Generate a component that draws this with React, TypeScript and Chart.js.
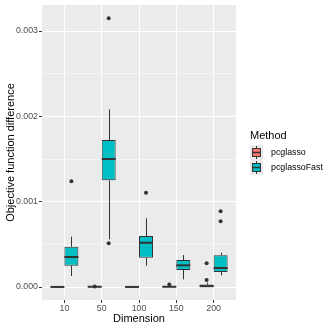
import React, { useEffect, useRef } from "react";
import { Chart, registerables } from "chart.js";
Chart.register(...registerables);

const DIMENSIONS = ["10", "50", "100", "150", "200"];
const METHODS = ["pcglasso", "pcglassoFast"];
const COLORS = ["#F8766D", "#00BFC4"];
const Y_TICKS = [0, 0.0005, 0.001, 0.0015, 0.002, 0.0025, 0.003];

// pcglasso
const PCG_LOWER = [0, 0, 0, 0, 0];
const PCG_Q1 = [0, 0.000001, 0, 0.000001, 0.000003];
const PCG_MEDIAN = [0.000001, 0.000003, 0.000001, 0.000003, 0.00001];
const PCG_Q3 = [0.000002, 0.000005, 0.000002, 0.000006, 0.00003];
const PCG_UPPER = [0.000004, 0.000008, 0.000004, 0.00001, 0.00005];
const PCG_OUTLIERS = [[], [0.000005], [], [0.00003], [0.000082, 0.000278]];

// pcglassoFast
const FAST_LOWER = [0.000129, 0.00056, 0.00025, 0.00009, 0.000137];
const FAST_Q1 = [0.00025, 0.00125, 0.000343, 0.0002, 0.000176];
const FAST_MEDIAN = [0.000352, 0.0015, 0.000519, 0.000254, 0.000223];
const FAST_Q3 = [0.000472, 0.001723, 0.000598, 0.000316, 0.000371];
const FAST_UPPER = [0.00059, 0.002082, 0.000805, 0.000375, 0.000402];
const FAST_OUTLIERS = [[0.001239], [0.003149, 0.000512], [0.001105], [], [0.00077, 0.000887]];

const STATS = [
  { lower: PCG_LOWER, q1: PCG_Q1, median: PCG_MEDIAN, q3: PCG_Q3, upper: PCG_UPPER, outliers: PCG_OUTLIERS },
  { lower: FAST_LOWER, q1: FAST_Q1, median: FAST_MEDIAN, q3: FAST_Q3, upper: FAST_UPPER, outliers: FAST_OUTLIERS },
];

const FONT = "'Liberation Sans', Arial, sans-serif";
const DODGE = 0.1875;
const DARK = "#333333";

const isMajor = (v: number) => Math.round(v * 2000) % 2 === 0;

const boxPlugin = {
  id: "boxExtras",
  beforeDraw(chart: any) {
    const { ctx, chartArea: a } = chart;
    ctx.save();
    ctx.fillStyle = "#EBEBEB";
    ctx.fillRect(a.left, a.top, a.right - a.left, a.bottom - a.top);
    ctx.restore();
  },
  beforeDatasetsDraw(chart: any) {
    const { ctx } = chart;
    const ys = chart.scales.y;
    ctx.save();
    ctx.strokeStyle = DARK;
    ctx.lineWidth = 1;
    STATS.forEach((s, d) => {
      const meta = chart.getDatasetMeta(d);
      meta.data.forEach((el: any, i: number) => {
        const x = Math.round(el.x) + 0.5;
        ctx.beginPath();
        ctx.moveTo(x, ys.getPixelForValue(s.q3[i]));
        ctx.lineTo(x, ys.getPixelForValue(s.upper[i]));
        ctx.moveTo(x, ys.getPixelForValue(s.q1[i]));
        ctx.lineTo(x, ys.getPixelForValue(s.lower[i]));
        ctx.stroke();
      });
    });
    ctx.restore();
  },
  afterDatasetsDraw(chart: any) {
    const { ctx } = chart;
    const ys = chart.scales.y;
    ctx.save();
    ctx.strokeStyle = DARK;
    ctx.lineWidth = 2;
    STATS.forEach((s, d) => {
      const meta = chart.getDatasetMeta(d);
      meta.data.forEach((el: any, i: number) => {
        const y = ys.getPixelForValue(s.median[i]);
        ctx.beginPath();
        ctx.moveTo(el.x - el.width / 2, y);
        ctx.lineTo(el.x + el.width / 2, y);
        ctx.stroke();
      });
    });
    ctx.restore();
  },
  afterDraw(chart: any) {
    const { ctx } = chart;
    ctx.save();
    ctx.fillStyle = "#000";
    ctx.textBaseline = "middle";
    ctx.textAlign = "left";
    ctx.font = `11px ${FONT}`;
    ctx.fillText("Method", 250, 136);
    METHODS.forEach((m, k) => {
      const ky = 145 + k * 15;
      ctx.fillStyle = "#EBEBEB";
      ctx.fillRect(250, ky, 13, 15);
      ctx.strokeStyle = DARK;
      ctx.lineWidth = 1;
      ctx.beginPath();
      ctx.moveTo(256.5, ky + 1);
      ctx.lineTo(256.5, ky + 14);
      ctx.stroke();
      ctx.fillStyle = COLORS[k];
      ctx.fillRect(252.5, ky + 3.5, 8, 8);
      ctx.strokeRect(252.5, ky + 3.5, 8, 8);
      ctx.lineWidth = 1.5;
      ctx.beginPath();
      ctx.moveTo(252.5, ky + 7.5);
      ctx.lineTo(260.5, ky + 7.5);
      ctx.stroke();
      ctx.fillStyle = "#000";
      ctx.font = `8.8px ${FONT}`;
      ctx.fillText(m, 271, ky + 7.5);
    });
    ctx.restore();
  },
};

export default function App() {
  const ref = useRef<HTMLCanvasElement>(null);
  useEffect(() => {
    const canvas = ref.current;
    if (!canvas) return;
    const barSets = STATS.map((s, d) => ({
      type: "bar" as const,
      label: METHODS[d],
      data: DIMENSIONS.map((_, i) => ({ x: i + 1, y: [s.q1[i], s.q3[i]] })),
      backgroundColor: COLORS[d],
      borderColor: DARK,
      borderWidth: 1,
      borderSkipped: false,
      categoryPercentage: 0.75,
      barPercentage: 1,
    }));
    const outlierSets = STATS.map((s, d) => ({
      type: "scatter" as const,
      label: METHODS[d] + " outliers",
      data: s.outliers.flatMap((arr, i) =>
        arr.map((v) => ({ x: i + 1 + (d === 0 ? -DODGE : DODGE), y: v }))
      ),
      pointRadius: 2,
      backgroundColor: DARK,
      borderWidth: 0,
    }));
    const chart = new Chart(canvas, {
      type: "bar",
      data: { datasets: [...barSets, ...outlierSets] as any },
      options: {
        animation: false,
        responsive: false,
        layout: { padding: { top: 5, right: 94, left: 0, bottom: 0 } },
        plugins: { legend: { display: false }, tooltip: { enabled: false } },
        scales: {
          x: {
            type: "linear",
            offset: false,
            min: 0.4,
            max: 5.6,
            afterBuildTicks: (s: any) => {
              s.ticks = DIMENSIONS.map((_, i) => ({ value: i + 1 }));
            },
            afterFit: (s: any) => {
              s.height = 30;
              s.paddingLeft = 0;
              s.paddingRight = 0;
            },
            grid: { offset: false, color: "#FFFFFF", lineWidth: 1, tickColor: DARK, tickLength: 3, tickWidth: 1 },
            border: { display: false },
            ticks: {
              callback: (v: any) => DIMENSIONS[Math.round(v) - 1] ?? "",
              color: "#4D4D4D",
              font: { family: FONT, size: 8.8 },
              padding: 0,
              maxRotation: 0,
              autoSkip: false,
            },
            title: {
              display: true,
              text: "Dimension",
              color: "#000",
              font: { family: FONT, size: 11 },
              padding: { top: 0, bottom: 4 },
            },
          },
          y: {
            type: "linear",
            min: -0.000152,
            max: 0.003305,
            afterBuildTicks: (s: any) => {
              s.ticks = Y_TICKS.map((v) => ({ value: v }));
            },
            afterFit: (s: any) => {
              s.width = 42;
              s.paddingTop = 0;
              s.paddingBottom = 0;
            },
            grid: {
              color: "#FFFFFF",
              lineWidth: (c: any) => (c.tick && !isMajor(c.tick.value) ? 0.5 : 1),
              tickColor: (c: any) => (c.tick && !isMajor(c.tick.value) ? "rgba(0,0,0,0)" : DARK),
              tickLength: 3,
              tickWidth: 1,
            },
            border: { display: false },
            ticks: {
              callback: (v: any) => (isMajor(v) ? Number(v).toFixed(3) : ""),
              color: "#4D4D4D",
              font: { family: FONT, size: 8.8 },
              padding: 1,
              autoSkip: false,
            },
            title: {
              display: true,
              text: "Objective function difference",
              color: "#000",
              font: { family: FONT, size: 11 },
              padding: { top: 4, bottom: 0 },
            },
          },
        },
      } as any,
      plugins: [boxPlugin],
    });
    return () => chart.destroy();
  }, []);
  return (
    <div style={{ position: "absolute", left: 0, top: 0, width: 330, height: 330 }}>
      <canvas ref={ref} width={330} height={330} style={{ display: "block" }} />
    </div>
  );
}
